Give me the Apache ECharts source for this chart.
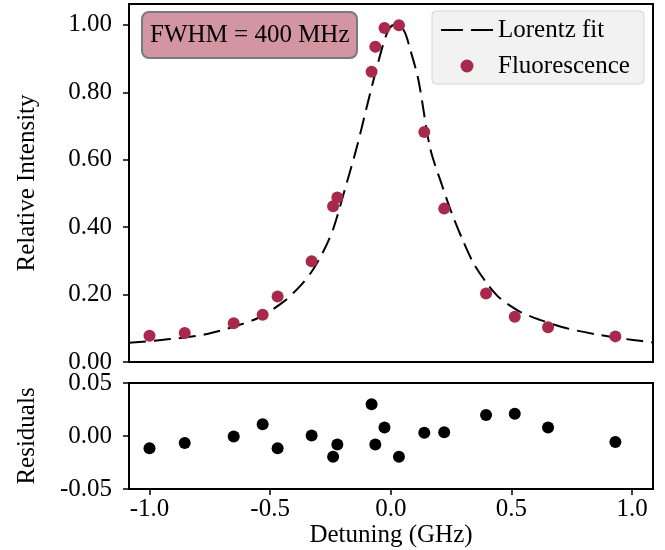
<!DOCTYPE html>
<html>
<head>
<meta charset="utf-8">
<title>Lorentz fit</title>
<script src="https://cdn.jsdelivr.net/npm/echarts@6/dist/echarts.min.js"></script>
<style>
  html, body { margin: 0; padding: 0; background: #fff; }
  #main { width: 665px; height: 550px; }
</style>
</head>
<body>
<div id="main"></div>
<script>
// measured points (GHz, relative intensity)
var detuning = [-1.0, -0.854, -0.651, -0.531, -0.469, -0.328, -0.239, -0.2215, -0.0795,
	-0.064, -0.026, 0.034, 0.139, 0.2215, 0.395, 0.514, 0.652, 0.931];
var intensity = [0.078, 0.086, 0.115, 0.140, 0.194, 0.299, 0.462, 0.488, 0.861,
	0.935, 0.991, 0.999, 0.682, 0.455, 0.203, 0.134, 0.103, 0.076];
var residuals = [-0.0116, -0.0065, -0.0005, 0.011, -0.0116, 0.0005, -0.0195, -0.0081, 0.030,
	-0.0081, 0.0081, -0.0195, 0.003, 0.0036, 0.0198, 0.0211, 0.0081, -0.0056];

// fit curve
var fitX = [-1.085, -0.913, -0.761, -0.637, -0.540, -0.444, -0.375, -0.326, -0.278, -0.237,
	-0.195, -0.140, -0.099, -0.057, -0.016, 0.012, 0.053, 0.081, 0.115, 0.163, 0.212,
	0.253, 0.295, 0.343, 0.398, 0.453, 0.536, 0.619, 0.730, 0.867, 1.005, 1.087];
var fitY = [0.057, 0.068, 0.083, 0.108, 0.134, 0.179, 0.226, 0.270, 0.330, 0.398,
	0.500, 0.639, 0.758, 0.876, 0.975, 1.000, 0.985, 0.926, 0.835, 0.635, 0.525,
	0.441, 0.367, 0.293, 0.234, 0.189, 0.149, 0.125, 0.100, 0.080, 0.065, 0.058];

var xTicks = [-1.0, -0.5, 0.0, 0.5, 1.0];
var yTicks = [0, 0.2, 0.4, 0.6, 0.8, 1.0];
var resTicks = [-0.05, 0, 0.05];

var FONT = '"Liberation Serif", "DejaVu Serif", serif';
var RED = '#a8294c';

function pairs(xs, ys) {
	var out = [];
	for (var i = 0; i < xs.length; i++) out.push([xs[i], ys[i]]);
	return out;
}

var myChart = echarts.init(document.getElementById('main'));

var axisCommon = {
	axisLine: { show: true, onZero: false, lineStyle: { color: '#000', width: 2 } },
	axisTick: { show: true, inside: false, length: 6, lineStyle: { color: '#000', width: 1.5 } },
	splitLine: { show: false },
	axisLabel: { color: '#000', fontFamily: FONT, fontSize: 25 },
	nameTextStyle: { color: '#000', fontFamily: FONT, fontSize: 25 }
};

function axis(extra) {
	return echarts.util.merge(echarts.util.clone(axisCommon), extra, true);
}

var option = {
	animation: false,
	backgroundColor: '#fff',
	title: {
		text: 'FWHM = 400 MHz',
		left: 142, top: 12,
		padding: [11, 8, 10, 8],
		backgroundColor: '#d495a3',
		borderColor: '#7a7a7a',
		borderWidth: 2,
		borderRadius: 7,
		textStyle: { color: '#000', fontFamily: FONT, fontSize: 25, fontWeight: 'normal' }
	},
	legend: {
		orient: 'vertical',
		left: 432, top: 11,
		padding: [6, 14, 5, 8],
		itemGap: 10,
		itemWidth: 52,
		itemHeight: 13,
		backgroundColor: '#f2f2f2',
		borderColor: '#d4d4d4',
		borderWidth: 1,
		borderRadius: 4,
		textStyle: { color: '#000', fontFamily: FONT, fontSize: 25, lineHeight: 26 },
		data: [
			{ name: 'Lorentz fit', itemStyle: { opacity: 0 }, lineStyle: { type: [22, 8] } },
			'Fluorescence'
		]
	},
	grid: [
		{ left: 129, right: 12, top: 4, height: 358, show: true, borderColor: '#000', borderWidth: 2 },
		{ left: 129, right: 12, top: 383, height: 106, show: true, borderColor: '#000', borderWidth: 2 }
	],
	xAxis: [
		axis({
			type: 'value', gridIndex: 0, min: -1.085, max: 1.087,
			axisTick: { show: false }, axisLabel: { show: false }
		}),
		axis({
			type: 'value', gridIndex: 1, min: -1.085, max: 1.087,
			name: 'Detuning (GHz)', nameLocation: 'middle', nameGap: 29,
			axisTick: { customValues: xTicks },
			axisLabel: { customValues: xTicks, margin: 8, formatter: function (v) { return v.toFixed(1); } }
		})
	],
	yAxis: [
		axis({
			type: 'value', gridIndex: 0, min: 0, max: 1.062,
			name: 'Relative Intensity', nameLocation: 'middle', nameGap: 89, nameRotate: 90,
			axisTick: { customValues: yTicks },
			axisLabel: { customValues: yTicks, margin: 17, formatter: function (v) { return v.toFixed(2); } }
		}),
		axis({
			type: 'value', gridIndex: 1, min: -0.05, max: 0.05,
			name: 'Residuals', nameLocation: 'middle', nameGap: 89, nameRotate: 90,
			axisTick: { customValues: resTicks },
			axisLabel: { customValues: resTicks, margin: 17, formatter: function (v) { return v.toFixed(2); } }
		})
	],
	series: [
		{
			name: 'Lorentz fit',
			type: 'line',
			xAxisIndex: 0, yAxisIndex: 0,
			data: pairs(fitX, fitY),
			showSymbol: false,
			symbol: 'none',
			smooth: 0.3,
			lineStyle: { color: '#000', width: 2, type: [17, 8] },
			itemStyle: { color: '#000' },
			z: 2
		},
		{
			name: 'Fluorescence',
			type: 'scatter',
			xAxisIndex: 0, yAxisIndex: 0,
			data: pairs(detuning, intensity),
			symbolSize: 12,
			itemStyle: { color: RED, opacity: 1 },
			z: 3
		},
		{
			name: 'Residuals',
			type: 'scatter',
			xAxisIndex: 1, yAxisIndex: 1,
			data: pairs(detuning, residuals),
			symbolSize: 12,
			itemStyle: { color: '#000', opacity: 1 }
		}
	]
};

myChart.setOption(option);
</script>
</body>
</html>
